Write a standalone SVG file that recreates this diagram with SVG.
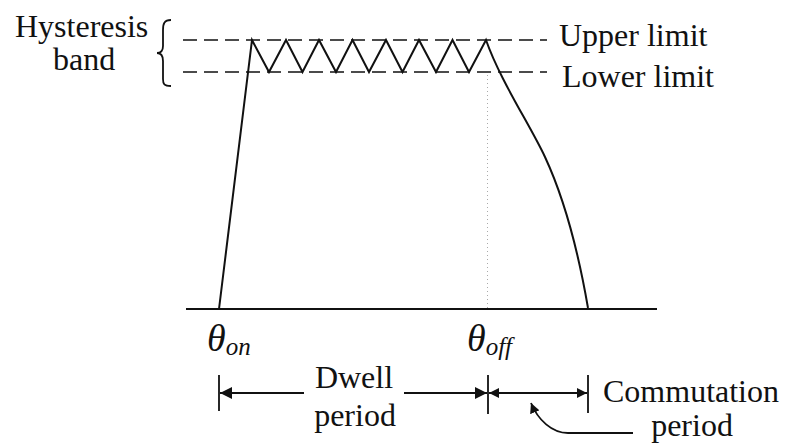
<svg xmlns="http://www.w3.org/2000/svg" width="791" height="447" viewBox="0 0 791 447">
<style>
.t{font-family:"Times New Roman",Tinos,"Liberation Serif","Nimbus Roman","Noto Serif","DejaVu Serif",FreeSerif,serif;font-size:32px;fill:#111}
.it{font-family:"Times New Roman",Tinos,"Liberation Serif","Nimbus Roman","Noto Serif","DejaVu Serif",FreeSerif,serif;font-style:italic;fill:#111}
.ln{fill:none;stroke:#111;stroke-width:2}
.dash{fill:none;stroke:#111;stroke-width:1.6;stroke-dasharray:14 7}
.tk{fill:none;stroke:#111;stroke-width:1.8}
</style>
<defs>
<marker id="ah" viewBox="0 0 12 12" refX="12" refY="6" markerWidth="12" markerHeight="12" markerUnits="userSpaceOnUse" orient="auto-start-reverse">
<path d="M0,0 L12,6 L0,12 Z" fill="#111"/>
</marker>
<marker id="ahs" viewBox="0 0 10 10" refX="10" refY="5" markerWidth="10" markerHeight="10" markerUnits="userSpaceOnUse" orient="auto-start-reverse">
<path d="M0,0 L10,5 L0,10 Z" fill="#111"/>
</marker>
</defs>
<g id="hysteresis-band">
<text class="t" x="15" y="37">Hysteresis</text>
<text class="t" x="53" y="70">band</text>
<path class="tk" d="M171,20 C164,20 163,24 163,30 L163,46 C163,51 161,53 157,53 C161,53 163,56 163,61 L163,79 C163,84 164,86 171,86"/>
</g>
<g id="limits">
<line class="dash" x1="183" y1="40" x2="547" y2="40"/>
<line class="dash" x1="183" y1="72" x2="547" y2="72"/>
<text class="t" x="559" y="46">Upper limit</text>
<text class="t" x="562" y="87">Lower limit</text>
</g>
<g id="axis">
<line class="ln" x1="186" y1="309" x2="657" y2="309" stroke-width="1.6"/>
<line x1="487.5" y1="75" x2="487.5" y2="309" stroke="#aaa" stroke-width="1" stroke-dasharray="1 3"/>
</g>
<g id="current-waveform">
<path class="ln" d="M219,309 L252,40 L269,72 L286,40 L302.5,72 L319,40 L336,72 L352.5,40 L369,72 L386,40 L402.5,72 L419,40 L436,72 L452.5,40 L469,72 L486,40 C500,80 530,125 545,157 C565,200 578,250 588,308"/>
</g>
<g id="theta-on">
<text class="it" x="207" y="351" font-size="38">θ<tspan font-size="25" dy="4">on</tspan></text>
</g>
<g id="theta-off">
<text class="it" x="467" y="351" font-size="38">θ<tspan font-size="25" dy="4">off</tspan></text>
</g>
<g id="dwell">
<text class="t" x="354" y="388" text-anchor="middle">Dwell</text>
<text class="t" x="355" y="426" text-anchor="middle">period</text>
</g>
<g id="commutation">
<text class="t" x="603" y="402">Commutation</text>
<text class="t" x="692" y="436" text-anchor="middle">period</text>
</g>
<g id="connectors">
<line class="tk" x1="219" y1="375" x2="219" y2="411"/>
<line class="tk" x1="488" y1="375" x2="488" y2="414"/>
<line class="tk" x1="588" y1="375" x2="588" y2="413"/>
<line class="tk" x1="304" y1="393" x2="220" y2="393" marker-end="url(#ah)"/>
<line class="tk" x1="404" y1="393" x2="487" y2="393" marker-end="url(#ah)"/>
<line class="tk" x1="489" y1="393" x2="587" y2="393" marker-start="url(#ahs)" marker-end="url(#ahs)"/>
<path class="tk" d="M633,433 L568,433 C552,433 538,420 531,403" marker-end="url(#ahs)"/>
</g>
</svg>
